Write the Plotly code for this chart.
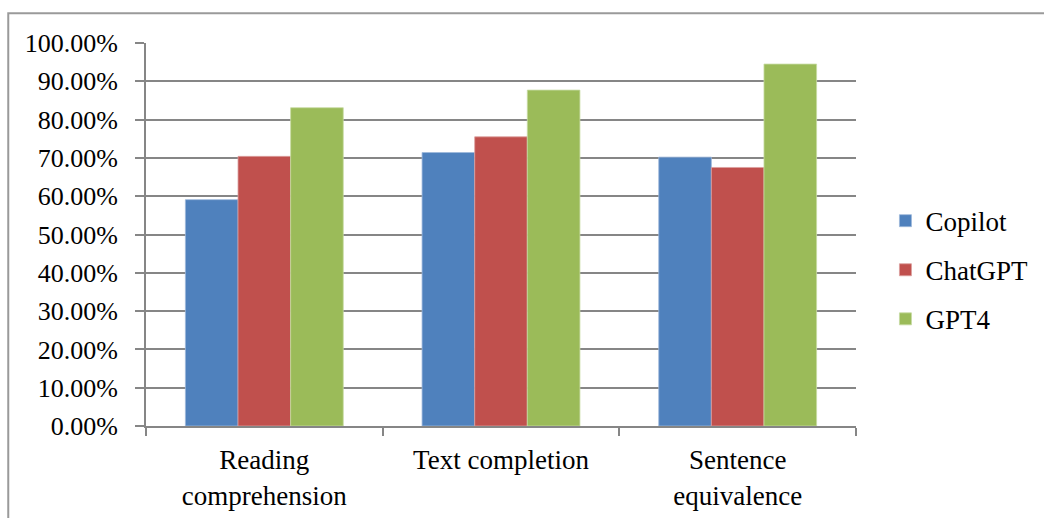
import plotly.graph_objects as go

# Task categories and accuracy per model (fractions of 1)
categories = ["Reading<br>comprehension", "Text completion", "Sentence<br>equivalence"]
copilot = [0.591, 0.714, 0.702]
chatgpt = [0.704, 0.755, 0.675]
gpt4 = [0.831, 0.877, 0.945]

series_names = ["Copilot", "ChatGPT", "GPT4"]
series_values = [copilot, chatgpt, gpt4]
series_colors = ["#4F81BD", "#C0504D", "#9BBB59"]
edge_colors = ["#9DB7DA", "#DCA09E", "#C6DAA2"]

y_ticks = [i / 10 for i in range(11)]

FONT = "Liberation Serif"
GRID = "#868686"

fig = go.Figure()
for name, vals, col, edge in zip(series_names, series_values, series_colors, edge_colors):
    fig.add_trace(go.Bar(
        x=categories, y=vals, name=name, legendgroup=name,
        marker=dict(color=col, line=dict(color=edge, width=0.8)),
    ))

fig.update_layout(
    width=1044, height=518,
    barmode="group", bargap=0.333, bargroupgap=0,
    plot_bgcolor="white", paper_bgcolor="white",
    margin=dict(l=146, r=187, t=43, b=92),
    font=dict(family=FONT, size=26, color="black"),
    showlegend=True,
    legend=dict(
        x=1.04, y=0.407, xanchor="left", yanchor="middle",
        font=dict(family=FONT, size=27, color="black"),
        traceorder="grouped", tracegroupgap=11,
        bgcolor="rgba(0,0,0,0)",
    ),
    xaxis=dict(
        showgrid=False, showline=True, linecolor=GRID, linewidth=2,
        ticks="outside", tickson="boundaries", ticklen=8, tickwidth=2,
        tickcolor=GRID, tickfont=dict(family=FONT, size=27),
        ticklabelstandoff=9, automargin=False,
    ),
    yaxis=dict(
        range=[0, 1], tickvals=y_ticks, tickformat=".2%",
        showgrid=True, gridcolor=GRID, gridwidth=2,
        showline=True, linecolor=GRID, linewidth=2,
        ticks="outside", ticklen=9, tickwidth=2, tickcolor=GRID,
        ticklabelstandoff=12, automargin=False,
        tickfont=dict(family=FONT, size=26), zeroline=False,
    ),
    shapes=[dict(
        type="rect", xref="paper", yref="paper",
        x0=-0.194, x1=1.3, y0=-0.3, y1=1.078,
        line=dict(color="#9a9a9a", width=2), fillcolor="rgba(0,0,0,0)",
        layer="below",
    )],
)

fig.write_html("out.html")
